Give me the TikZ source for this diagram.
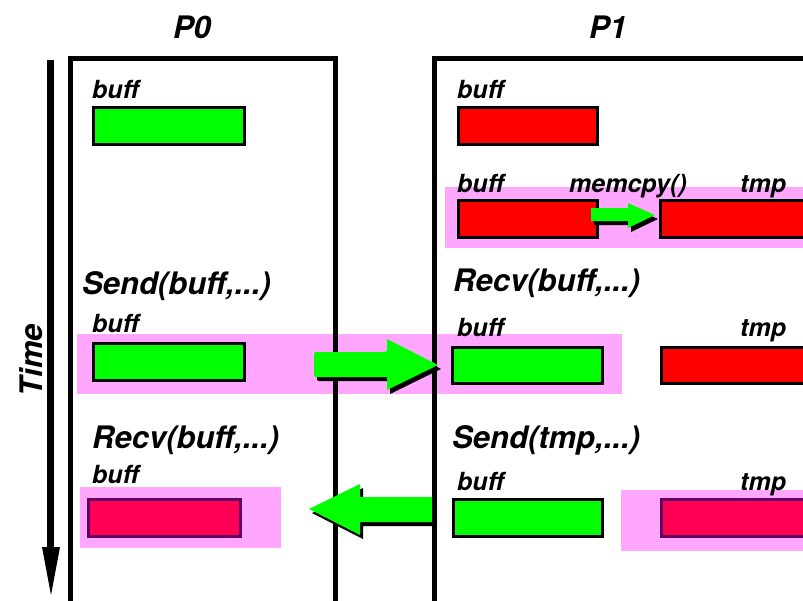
\documentclass[tikz,border=0pt]{standalone}
\usepackage{fontspec}
\setmainfont{TeX Gyre Heros}
\definecolor{bgreen}{RGB}{0,255,0}
\definecolor{bred}{RGB}{255,0,0}
\definecolor{bpink}{RGB}{255,166,255}
\definecolor{bmag}{RGB}{255,0,85}
\definecolor{bpurp}{RGB}{100,0,100}
\tikzset{
  bigtxt/.style={font=\fontsize{31}{36}\selectfont\bfseries\itshape, inner sep=0pt, anchor=base west},
  smalltxt/.style={font=\fontsize{25}{30}\selectfont\bfseries\itshape, inner sep=0pt, anchor=base west},
  bufbox/.style={draw=black, line width=3pt, inner sep=0pt, outer sep=0pt, minimum height=37pt},
  greenbuf/.style={bufbox, fill=bgreen},
  redbuf/.style={bufbox, fill=bred},
  magbuf/.style={bufbox, fill=bmag, draw=bpurp},
  band/.style={fill=bpink},
  proc/.style={draw=black, line width=4.5pt},
  blockarrow/.style={fill=bgreen},
  arrowshadow/.style={fill=black, shift={(3,4)}}
}
\begin{document}
\begin{tikzpicture}[x=1pt,y=-1pt]
\useasboundingbox (0,0) rectangle (803,600);
\clip (0,0) rectangle (803,600);
% pink highlight bands
\fill[band] (445,187) rectangle (815,248);
\fill[band] (77,334) rectangle (622,394);
\fill[band] (80,487) rectangle (281,548);
\fill[band] (621,490) rectangle (815,551);
% process boxes
\draw[proc] (70.5,612) -- (70.5,58.5) -- (335.5,58.5) -- (335.5,612);
\draw[proc] (434.5,612) -- (434.5,58.5) -- (830,58.5);
% titles
\node[bigtxt, anchor=base] (p0) at (192,38) {P0};
\node[bigtxt, anchor=base] (p1) at (608,38) {P1};
% time arrow
\node[bigtxt, anchor=base, rotate=90] (time) at (42,360) {Time};
\draw[line width=7.5pt] (50.5,60) -- (50.5,552);
\fill[black] (42,547) -- (60,547) -- (51,595) -- cycle;
% P0 contents
\node[smalltxt] (l1) at (92,98) {buff};
\node[greenbuf, minimum width=151pt] (b1) at (169,126) {};
\node[bigtxt] (send0) at (82,294) {Send(buff,...)};
\node[smalltxt] (l2) at (92,332) {buff};
\node[greenbuf, minimum width=151pt] (b2) at (169,362) {};
\node[bigtxt] (recv0) at (92,448) {Recv(buff,...)};
\node[smalltxt] (l3) at (92,483) {buff};
\node[magbuf, minimum width=152pt] (b3) at (164.5,518) {};
% P1 contents
\node[smalltxt] (m1) at (457,98) {buff};
\node[redbuf, minimum width=139pt] (r1) at (528,126) {};
\node[smalltxt] (m2) at (457,192) {buff};
\node[smalltxt] (mc) at (569,192) {memcpy()};
\node[smalltxt] (t2) at (740,192) {tmp};
\node[redbuf, minimum width=139pt] (r2) at (528,219) {};
\node[redbuf, minimum width=178pt] (r2t) at (749.5,219) {};
\node[bigtxt] (recv1) at (453,291) {Recv(buff,...)};
\node[smalltxt] (m3) at (457,336) {buff};
\node[smalltxt] (t3) at (740,336) {tmp};
\node[greenbuf, minimum width=150pt, minimum height=36pt] (r3) at (527.5,365.5) {};
\node[redbuf, minimum width=178pt, minimum height=36pt] (r3t) at (750,365.5) {};
\node[bigtxt] (send1) at (452,448) {Send(tmp,...)};
\node[smalltxt] (m4) at (457,490) {buff};
\node[smalltxt] (t4) at (740,490) {tmp};
\node[greenbuf, minimum width=149pt] (r4) at (528,518) {};
\node[magbuf, minimum width=178pt] (r4t) at (750,518) {};
% memcpy arrow
\fill[arrowshadow] (591,208) -- (628,208) -- (628,203) -- (655,215) -- (628,228) -- (628,221) -- (591,221) -- cycle;
\fill[blockarrow] (591,208) -- (628,208) -- (628,203) -- (655,215) -- (628,228) -- (628,221) -- (591,221) -- cycle;
% send arrow P0 -> P1
\fill[arrowshadow, rounded corners=2pt] (314,352) -- (387,352) [sharp corners] -- (387,339) -- (438,365) -- (387,390) -- (387,377) [rounded corners=2pt] -- (314,377) -- cycle;
\fill[blockarrow, rounded corners=2pt] (314,352) -- (387,352) [sharp corners] -- (387,339) -- (438,365) -- (387,390) -- (387,377) [rounded corners=2pt] -- (314,377) -- cycle;
% send arrow P1 -> P0
\fill[arrowshadow] (432,497) -- (360,497) -- (360,484) -- (309,509) -- (360,535) -- (360,522) -- (432,522) -- cycle;
\fill[blockarrow] (432,497) -- (360,497) -- (360,484) -- (309,509) -- (360,535) -- (360,522) -- (432,522) -- cycle;
\end{tikzpicture}
\end{document}
